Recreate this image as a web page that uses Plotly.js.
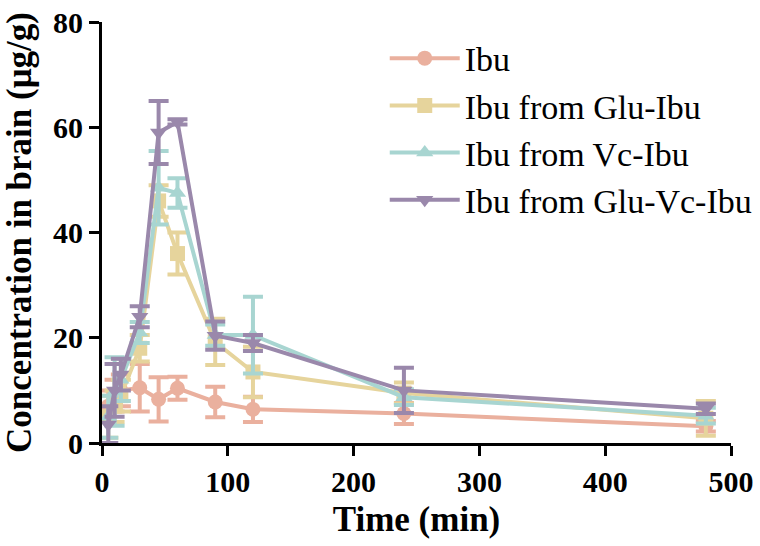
<!DOCTYPE html>
<html>
<head>
<meta charset="utf-8">
<script src="https://cdn.plot.ly/plotly-3.0.1.min.js"></script>
<style>html,body{margin:0;padding:0;background:#fff;}#chart{width:760px;height:546px;}</style>
</head>
<body>
<div id="chart"></div>
<script>
var time = [5, 10, 15, 30, 45, 60, 90, 120, 240, 480];
var seriesNames = ["Ibu", "Ibu from Glu-Ibu", "Ibu from Vc-Ibu", "Ibu from Glu-Vc-Ibu"];
var ibu       = [7.0, 9.0, 10.0, 10.5, 8.3, 10.4, 7.8, 6.4, 5.6, 3.2];
var ibuErr    = [3.0, 3.0, 3.0, 4.5, 4.2, 2.2, 2.9, 2.4, 2.0, 1.0];
var gluIbu    = [5.0, 7.0, 9.0, 18.0, 46.0, 36.0, 19.2, 13.5, 9.5, 4.7];
var gluIbuErr = [4.0, 3.0, 3.0, 2.5, 3.0, 4.0, 4.4, 4.8, 2.0, 3.3];
var vcIbu     = [5.0, 9.8, 12.0, 21.0, 48.5, 47.5, 20.5, 20.5, 8.7, 5.2];
var vcIbuErr  = [4.0, 6.5, 4.0, 2.0, 7.0, 2.8, 2.0, 7.3, 1.5, 1.5];
var gvIbu     = [3.5, 10.0, 13.0, 24.0, 59.0, 61.0, 20.4, 19.0, 10.0, 6.5];
var gvIbuErr  = [3.5, 5.0, 3.0, 2.0, 6.0, 0.5, 2.7, 1.5, 4.3, 1.0];
var xTicks = [0, 100, 200, 300, 400, 500];
var yTicks = [0, 20, 40, 60, 80];

var colors = ["#eab09e", "#e6d49c", "#a8d5d1", "#9a88ab"];
var symbols = ["circle", "square", "triangle-up", "triangle-down"];
var ys = [ibu, gluIbu, vcIbu, gvIbu];
var es = [ibuErr, gluIbuErr, vcIbuErr, gvIbuErr];

var traces = ys.map(function (y, i) {
  return {
    x: time, y: y, name: seriesNames[i], type: "scatter", mode: "lines+markers",
    cliponaxis: false,
    line: {color: colors[i], width: 4},
    marker: {color: colors[i], symbol: symbols[i], size: 15},
    error_y: {type: "data", array: es[i], visible: true, color: colors[i], thickness: 4, width: 10}
  };
});

var serif = "Liberation Serif, Times New Roman, serif";
var tickFont = {family: serif, size: 30, color: "#000", weight: "bold"};
var titleFont = {family: serif, size: 35, color: "#000", weight: "bold"};
var layout = {
  width: 760, height: 546,
  margin: {l: 102, r: 29, t: 22, b: 103, autoexpand: false},
  paper_bgcolor: "#fff", plot_bgcolor: "#fff",
  showlegend: true,
  legend: {x: 0.4495, y: 0.982, xanchor: "left", yanchor: "top",
    font: {family: serif, size: 34, color: "#000"},
    itemwidth: 70, tracegroupgap: 0, bgcolor: "rgba(0,0,0,0)"},
  xaxis: {
    range: [0, 500], tickvals: xTicks, ticktext: xTicks.map(String),
    showline: true, linecolor: "#000", linewidth: 3, showgrid: false, zeroline: false,
    ticks: "outside", ticklen: 10, tickwidth: 3, tickcolor: "#000",
    tickfont: tickFont,
    title: {text: "Time (min)", font: titleFont, standoff: 10}
  },
  yaxis: {
    range: [0, 80], tickvals: yTicks, ticktext: yTicks.map(String),
    showline: true, linecolor: "#000", linewidth: 3, showgrid: false, zeroline: false,
    ticks: "outside", ticklen: 10, tickwidth: 3, tickcolor: "#000",
    tickfont: tickFont,
    title: {text: "Concentration in brain (μg/g)", font: titleFont, standoff: 13}
  }
};
Plotly.newPlot("chart", traces, layout, {displayModeBar: false});
</script>
</body>
</html>
